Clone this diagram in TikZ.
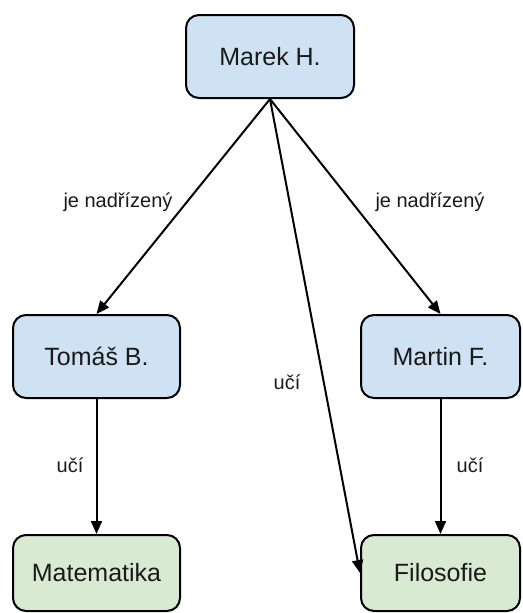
\documentclass[tikz,border=0pt]{standalone}
\usepackage{fontspec}
\setmainfont{Liberation Sans}
\usetikzlibrary{arrows.meta}
\definecolor{boxblue}{HTML}{CFE2F3}
\definecolor{boxgreen}{HTML}{D9EAD3}
\definecolor{txt}{HTML}{1A1A1A}
\tikzset{
  person/.style={draw=black, line width=2pt, rounded corners=13pt, fill=boxblue, text=txt, font=\fontsize{25}{29}\selectfont, inner sep=0pt},
  subject/.style={draw=black, line width=2pt, rounded corners=13pt, fill=boxgreen, text=txt, font=\fontsize{25}{29}\selectfont, inner sep=0pt},
  conn/.style={line width=2pt, -{Triangle[length=13pt,width=11pt]}},
  lbl/.style={font=\fontsize{20}{24}\selectfont, text=txt, inner sep=0pt}
}
\begin{document}
\begin{tikzpicture}[x=1pt,y=-1pt]
\useasboundingbox (0,0) rectangle (522,613);
\node[person, minimum width=168pt, minimum height=83pt] (marek) at (270,56.5) {Marek H.};
\node[person, minimum width=167pt, minimum height=83pt] (tomas) at (96.5,356.5) {Tomáš B.};
\node[person, minimum width=159pt, minimum height=83pt] (martin) at (440.5,356.5) {Martin F.};
\node[subject, minimum width=167pt, minimum height=76pt] (mat) at (96.5,573) {Matematika};
\node[subject, minimum width=159pt, minimum height=76pt] (fil) at (440.5,573) {Filosofie};

\draw[conn] (marek.south) -- (tomas.north);
\draw[conn] (marek.south) -- (martin.north);
\draw[conn] (marek.south) -- (fil.west);
\draw[conn] (tomas.south) -- (mat.north);
\draw[conn] (martin.south) -- (fil.north);

\node[lbl] (l1) at (118,202) {je nadřízený};
\node[lbl] (l2) at (430,202) {je nadřízený};
\node[lbl] (l3) at (287,382) {učí};
\node[lbl] (l4) at (70,465) {učí};
\node[lbl] (l5) at (470,465) {učí};
\end{tikzpicture}
\end{document}
